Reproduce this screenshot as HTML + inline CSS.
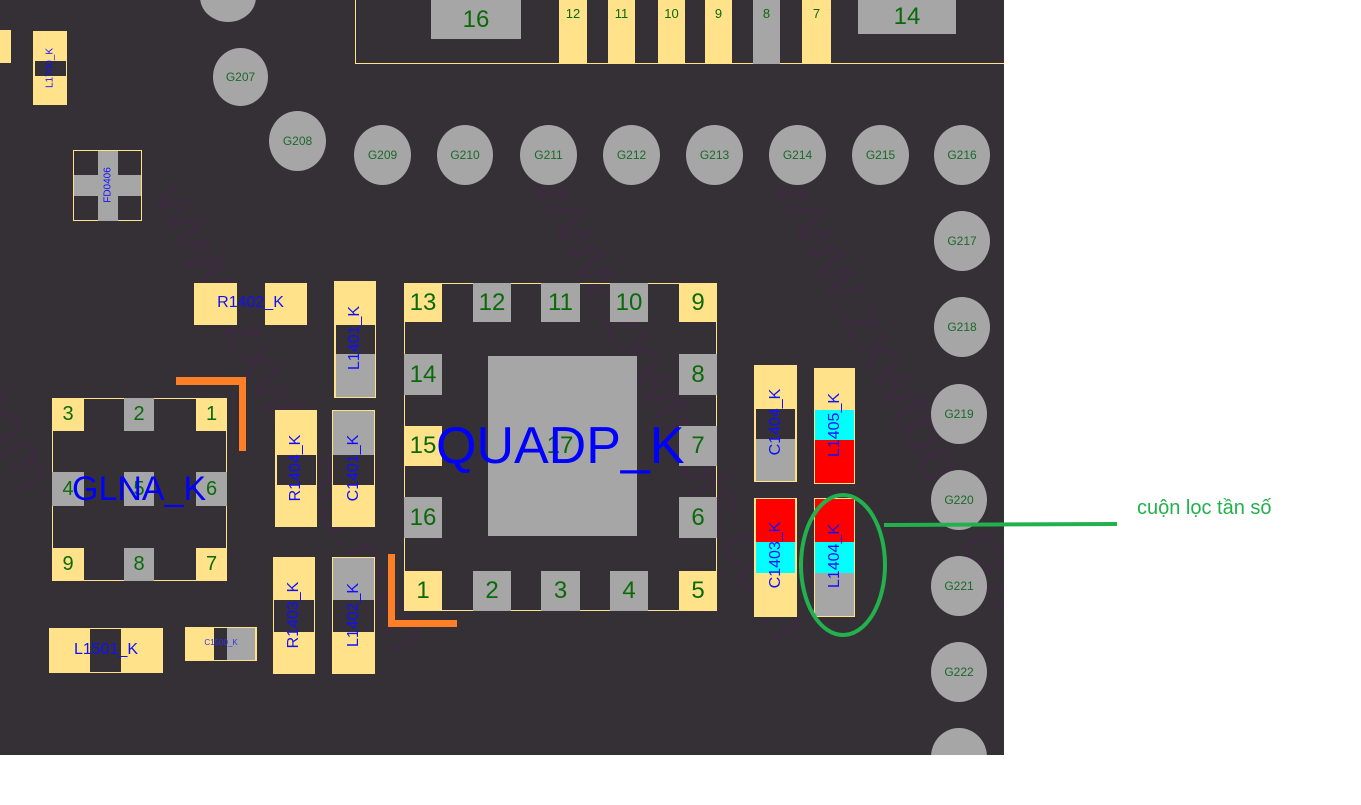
<!DOCTYPE html>
<html><head><meta charset="utf-8"><style>
body{margin:0;width:1361px;height:805px;background:#fff;position:relative;overflow:hidden;font-family:"Liberation Sans",sans-serif}
#b{position:absolute;left:0;top:0;width:1004px;height:755px;background:#343036;overflow:hidden}
.a{position:absolute;box-sizing:border-box}
.y{background:#ffe28a}.g{background:#a6a6a6}.d{background:#343036}.r{background:#f00}.c{background:#0ff}
.n{color:#0a6a0a;font-size:24px;display:flex;align-items:center;justify-content:center}
.G{position:absolute;background:#a6a6a6;border-radius:50%;color:#1a6a2a;font-size:12px;display:flex;align-items:center;justify-content:center}
.v{position:absolute;color:#1010ff;font-size:16px;white-space:nowrap;transform:translate(-50%,-50%) rotate(-90deg)}
.w{position:absolute;color:#3a2c3d;font-size:62px;white-space:nowrap;transform-origin:0 0}
</style></head><body>
<div id="b">
<div class="w" style="left:200px;top:170px;transform:rotate(62deg)">www.zxwtools.com</div>
<div class="w" style="left:580px;top:160px;transform:rotate(62deg)">www.zxwtools.com</div>
<div class="w" style="left:820px;top:160px;transform:rotate(62deg)">www.zxwtools.com</div>
<div class="w" style="left:-30px;top:280px;transform:rotate(62deg)">ols.com</div>

<div class="a" style="left:355px;top:-5px;width:660px;height:69px;border:1.5px solid #ffe28a"></div>
<div class="a g n" style="left:431px;top:0;width:90px;height:39px">16</div>
<div class="a g n" style="left:858px;top:0;width:98px;height:34px">14</div>
<div class="a y n" style="left:559px;top:0;width:28px;height:64px;font-size:13px;align-items:flex-start;padding-top:6px">12</div>
<div class="a y n" style="left:608px;top:0;width:27px;height:64px;font-size:13px;align-items:flex-start;padding-top:6px">11</div>
<div class="a y n" style="left:658px;top:0;width:27px;height:64px;font-size:13px;align-items:flex-start;padding-top:6px">10</div>
<div class="a y n" style="left:705px;top:0;width:27px;height:64px;font-size:13px;align-items:flex-start;padding-top:6px">9</div>
<div class="a g n" style="left:753px;top:0;width:27px;height:64px;font-size:13px;align-items:flex-start;padding-top:6px">8</div>
<div class="a y n" style="left:802px;top:0;width:29px;height:64px;font-size:13px;align-items:flex-start;padding-top:6px">7</div>

<div class="G" style="left:200px;top:-28px;width:56px;height:50px"></div>
<div class="G" style="left:213px;top:48px;width:55px;height:58px">G207</div>
<div class="G" style="left:269px;top:111px;width:57px;height:60px">G208</div>
<div class="G" style="left:354px;top:125px;width:57px;height:60px">G209</div>
<div class="G" style="left:437px;top:125px;width:56px;height:60px">G210</div>
<div class="G" style="left:520px;top:125px;width:57px;height:60px">G211</div>
<div class="G" style="left:603px;top:125px;width:57px;height:60px">G212</div>
<div class="G" style="left:686px;top:125px;width:57px;height:60px">G213</div>
<div class="G" style="left:769px;top:125px;width:57px;height:60px">G214</div>
<div class="G" style="left:852px;top:125px;width:57px;height:60px">G215</div>
<div class="G" style="left:934px;top:125px;width:56px;height:60px">G216</div>
<div class="G" style="left:934px;top:211px;width:56px;height:60px">G217</div>
<div class="G" style="left:934px;top:297px;width:56px;height:60px">G218</div>
<div class="G" style="left:931px;top:384px;width:56px;height:60px">G219</div>
<div class="G" style="left:931px;top:470px;width:56px;height:60px">G220</div>
<div class="G" style="left:931px;top:556px;width:56px;height:60px">G221</div>
<div class="G" style="left:931px;top:642px;width:56px;height:60px">G222</div>
<div class="G" style="left:931px;top:728px;width:56px;height:58px"></div>

<div class="a y" style="left:0;top:30px;width:11px;height:33px"></div>
<div class="a y" style="left:33px;top:31px;width:34px;height:74px"></div>
<div class="a d" style="left:35px;top:61px;width:31px;height:15px"></div>
<div class="v" style="left:50px;top:68px;font-size:10px">L1700_K</div>
<div class="a d" style="left:73px;top:150px;width:69px;height:71px;border:1.5px solid #ffe28a"></div>
<div class="a g" style="left:98px;top:151px;width:20px;height:70px"></div>
<div class="a g" style="left:74px;top:175px;width:67px;height:21px"></div>
<div class="v" style="left:108px;top:185px;font-size:10px">FD0406</div>

<div class="a y" style="left:194px;top:283px;width:113px;height:42px"></div>
<div class="a d" style="left:237px;top:283px;width:28px;height:42px"></div>
<div class="a" style="left:194px;top:294px;width:113px;text-align:center;color:#1010ff;font-size:16px">R1402_K</div>
<div class="a y" style="left:334px;top:281px;width:42px;height:117px"></div>
<div class="a d" style="left:336px;top:325px;width:39px;height:29px"></div>
<div class="a g" style="left:336px;top:354px;width:39px;height:43px"></div>
<div class="v" style="left:355px;top:338px">L1401_K</div>

<div class="a" style="left:52px;top:398px;width:175px;height:183px;border:1.5px solid #ffe28a"></div>
<div class="a y n" style="left:52px;top:398px;width:32px;height:33px;font-size:20px">3</div>
<div class="a g n" style="left:124px;top:398px;width:30px;height:33px;font-size:20px">2</div>
<div class="a y n" style="left:196px;top:398px;width:31px;height:33px;font-size:20px">1</div>
<div class="a g n" style="left:52px;top:472px;width:32px;height:34px;font-size:20px">4</div>
<div class="a g n" style="left:124px;top:472px;width:30px;height:34px;font-size:20px">5</div>
<div class="a g n" style="left:196px;top:472px;width:31px;height:34px;font-size:20px">6</div>
<div class="a y n" style="left:52px;top:548px;width:32px;height:33px;font-size:20px">9</div>
<div class="a g n" style="left:124px;top:548px;width:30px;height:33px;font-size:20px">8</div>
<div class="a y n" style="left:196px;top:548px;width:31px;height:33px;font-size:20px">7</div>
<div class="a" style="left:72px;top:470px;color:#0000ff;font-size:34px">GLNA_K</div>
<div class="a" style="left:176px;top:377px;width:70px;height:8px;background:#ff7f27"></div>
<div class="a" style="left:239px;top:377px;width:7px;height:74px;background:#ff7f27"></div>
<div class="a" style="left:388px;top:554px;width:7px;height:73px;background:#ff7f27"></div>
<div class="a" style="left:388px;top:620px;width:69px;height:7px;background:#ff7f27"></div>

<div class="a y" style="left:275px;top:410px;width:42px;height:117px"></div>
<div class="a d" style="left:277px;top:455px;width:39px;height:30px"></div>
<div class="v" style="left:296px;top:468px">R1404_K</div>
<div class="a y" style="left:332px;top:410px;width:43px;height:117px"></div>
<div class="a g" style="left:333px;top:411px;width:41px;height:44px"></div>
<div class="a d" style="left:333px;top:455px;width:41px;height:30px"></div>
<div class="v" style="left:354px;top:468px">C1401_K</div>
<div class="a y" style="left:273px;top:557px;width:42px;height:117px"></div>
<div class="a d" style="left:274px;top:600px;width:40px;height:32px"></div>
<div class="v" style="left:294px;top:615px">R1403_K</div>
<div class="a y" style="left:332px;top:557px;width:43px;height:117px"></div>
<div class="a g" style="left:333px;top:558px;width:41px;height:42px"></div>
<div class="a d" style="left:333px;top:600px;width:41px;height:32px"></div>
<div class="v" style="left:354px;top:615px">L1402_K</div>
<div class="a y" style="left:49px;top:628px;width:114px;height:45px"></div>
<div class="a d" style="left:90px;top:629px;width:31px;height:43px"></div>
<div class="a" style="left:49px;top:641px;width:114px;text-align:center;color:#1010ff;font-size:16px">L1501_K</div>
<div class="a y" style="left:185px;top:627px;width:72px;height:34px"></div>
<div class="a d" style="left:214px;top:628px;width:13px;height:32px"></div>
<div class="a g" style="left:227px;top:628px;width:28px;height:32px"></div>
<div class="a" style="left:185px;top:638px;width:72px;text-align:center;color:#3030ff;font-size:8px">C1500_K</div>

<div class="a" style="left:404px;top:283px;width:313px;height:328px;border:1.5px solid #ffe28a"></div>
<div class="a g" style="left:488px;top:356px;width:149px;height:180px"></div>
<div class="a y n" style="left:404px;top:283px;width:38px;height:39px">13</div>
<div class="a g n" style="left:473px;top:283px;width:38px;height:39px">12</div>
<div class="a g n" style="left:541px;top:283px;width:39px;height:39px">11</div>
<div class="a g n" style="left:610px;top:283px;width:38px;height:39px">10</div>
<div class="a y n" style="left:679px;top:283px;width:38px;height:39px">9</div>
<div class="a g n" style="left:404px;top:354px;width:38px;height:41px">14</div>
<div class="a y n" style="left:404px;top:426px;width:38px;height:40px">15</div>
<div class="a g n" style="left:404px;top:497px;width:38px;height:41px">16</div>
<div class="a g n" style="left:679px;top:354px;width:38px;height:41px">8</div>
<div class="a g n" style="left:679px;top:426px;width:38px;height:40px">7</div>
<div class="a g n" style="left:679px;top:497px;width:38px;height:41px">6</div>
<div class="a y n" style="left:404px;top:571px;width:38px;height:40px">1</div>
<div class="a g n" style="left:473px;top:571px;width:38px;height:40px">2</div>
<div class="a g n" style="left:541px;top:571px;width:39px;height:40px">3</div>
<div class="a g n" style="left:610px;top:571px;width:38px;height:40px">4</div>
<div class="a y n" style="left:679px;top:571px;width:38px;height:40px">5</div>
<div class="a n" style="left:540px;top:426px;width:40px;height:40px">17</div>
<div class="a" style="left:436px;top:416px;color:#0000ff;font-size:52px;line-height:60px">QUADP_K</div>

<div class="a y" style="left:754px;top:365px;width:43px;height:117px"></div>
<div class="a d" style="left:756px;top:409px;width:39px;height:30px"></div>
<div class="a g" style="left:756px;top:439px;width:39px;height:42px"></div>
<div class="v" style="left:776px;top:422px">C1404_K</div>
<div class="a y" style="left:814px;top:368px;width:41px;height:116px"></div>
<div class="a c" style="left:815px;top:410px;width:39px;height:30px"></div>
<div class="a r" style="left:815px;top:440px;width:39px;height:43px"></div>
<div class="v" style="left:835px;top:425px">L1405_K</div>
<div class="a y" style="left:754px;top:498px;width:43px;height:119px"></div>
<div class="a r" style="left:756px;top:499px;width:39px;height:43px"></div>
<div class="a c" style="left:756px;top:542px;width:39px;height:31px"></div>
<div class="v" style="left:776px;top:555px">C1403_K</div>
<div class="a y" style="left:814px;top:498px;width:41px;height:119px"></div>
<div class="a r" style="left:815px;top:499px;width:39px;height:43px"></div>
<div class="a c" style="left:815px;top:542px;width:39px;height:31px"></div>
<div class="a g" style="left:815px;top:573px;width:39px;height:43px"></div>
<div class="v" style="left:835px;top:556px">L1404_K</div>
</div>
<svg style="position:absolute;left:0;top:0" width="1361" height="805">
<ellipse cx="843" cy="565" rx="42" ry="70" fill="none" stroke="#22b14c" stroke-width="4"/>
<line x1="884" y1="525" x2="1117" y2="524" stroke="#22b14c" stroke-width="4"/>
</svg>
<div style="position:absolute;left:1137px;top:497px;color:#22b14c;font-size:20px;font-family:'Liberation Sans','DejaVu Sans',sans-serif">cuộn lọc tần số</div>
</body></html>
